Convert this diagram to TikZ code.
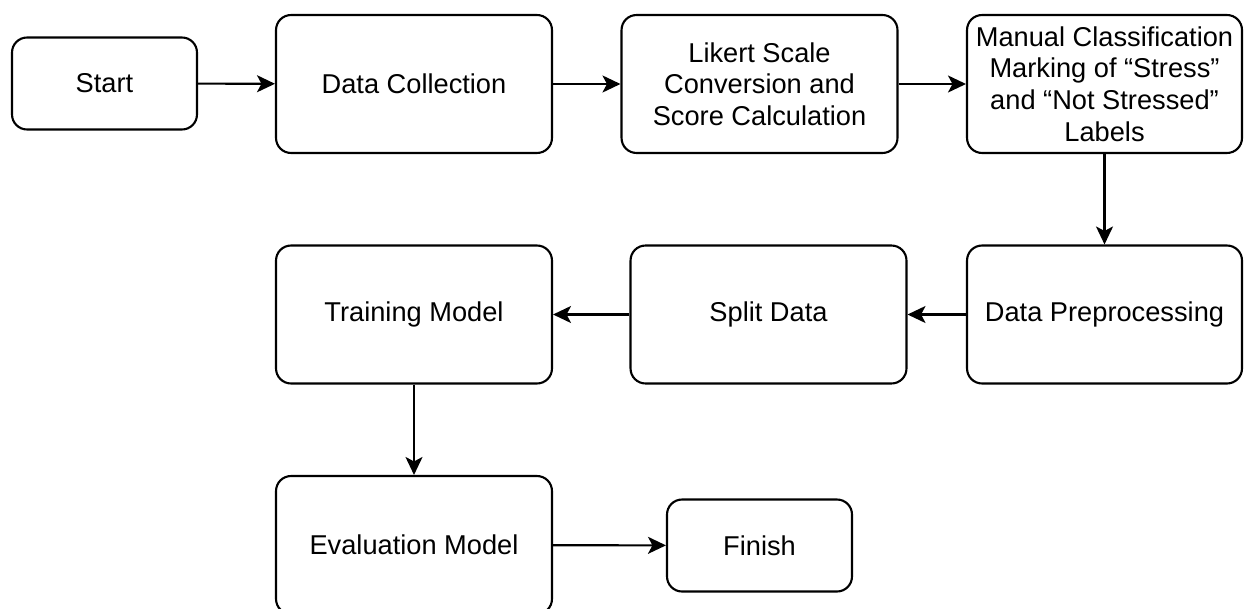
\documentclass[tikz,border=0pt]{standalone}
\usepackage{fontspec}
\setmainfont{Liberation Sans}
\usetikzlibrary{arrows.meta}

\begin{document}
\begin{tikzpicture}[x=0.02cm, y=-0.02cm, line width=1.2pt,
		box/.style={draw, rounded corners=0.3cm, align=center, inner sep=0pt, minimum width=5.52cm, minimum height=2.76cm, font=\fontsize{15.5}{18}\selectfont},
		smallbox/.style={box, minimum width=3.7cm, minimum height=1.84cm},
		flow/.style={-{Stealth[length=0.36cm, width=0.34cm, inset=0.09cm]}}]
		\useasboundingbox (0,0) rectangle (1246,608);
		\node [smallbox] (start) at (104.5,83.5) {Start};
		\node [box] (collect) at (414,84) {Data Collection};
		\node [box] (likert) at (759.5,84) {Likert Scale\\Conversion and\\Score Calculation};
		\node [box, minimum width=5.5cm] (manual) at (1104.5,84) {Manual Classification\\Marking of “Stress”\\and “Not Stressed”\\Labels};
		\node [box, minimum width=5.5cm] (prep) at (1104.5,314.5) {Data Preprocessing};
		\node [box] (split) at (768.5,314.5) {Split Data};
		\node [box] (train) at (414,314.5) {Training Model};
		\node [box] (eval) at (414,545) {Evaluation Model};
		\node [smallbox] (finish) at (759.5,545.5) {Finish};
		\draw [flow] (start) -- (collect);
		\draw [flow] (collect) -- (likert);
		\draw [flow] (likert) -- (manual);
		\draw [flow] (manual) -- (prep);
		\draw [flow] (prep) -- (split);
		\draw [flow] (split) -- (train);
		\draw [flow] (train) -- (eval);
		\draw [flow] (eval) -- (finish);
\end{tikzpicture}
\end{document}
